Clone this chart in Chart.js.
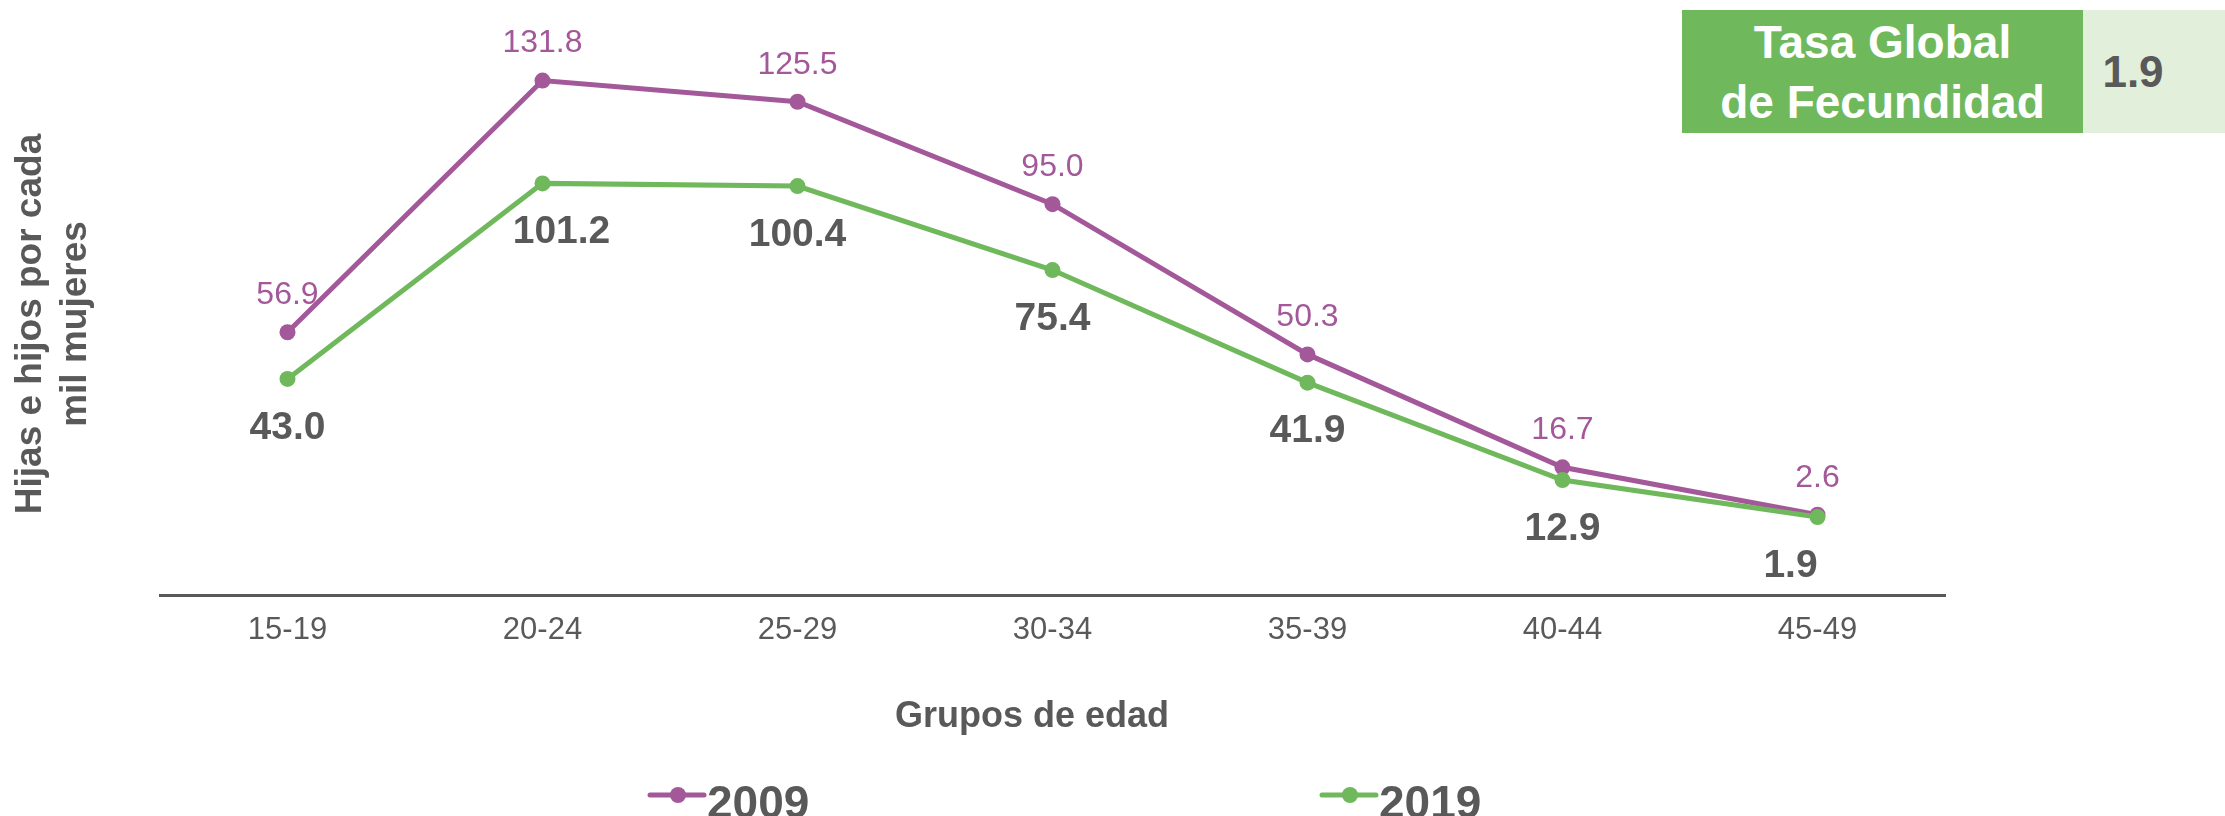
<!DOCTYPE html>
<html>
<head>
<meta charset="utf-8">
<script src="https://cdn.jsdelivr.net/npm/chart.js@4/dist/chart.umd.min.js"></script>
<style>
html,body{margin:0;padding:0;background:#ffffff;}
#wrap{position:relative;width:2225px;height:816px;overflow:hidden;background:#fff;}
#chart{position:absolute;left:0;top:0;}
.tgf{position:absolute;left:1682px;top:10px;width:401px;height:123px;background:#70B85C;color:#ffffff;
  font-family:"Liberation Sans",Arial,sans-serif;font-weight:bold;font-size:46px;line-height:60px;
  display:flex;align-items:center;justify-content:center;text-align:center;}
.valbox{position:absolute;left:2083px;top:10px;width:142px;height:123px;background:#E2EFDA;}
.valtxt{position:absolute;left:2083px;top:10px;width:100px;height:123px;color:#595959;
  font-family:"Liberation Sans",Arial,sans-serif;font-weight:bold;font-size:44px;
  display:flex;align-items:center;justify-content:center;}
</style>
</head>
<body>
<div id="wrap">
  <canvas id="chart" width="2225" height="816"></canvas>
  <div class="tgf">Tasa Global<br>de Fecundidad</div>
  <div class="valbox"></div>
  <div class="valtxt" id="tgfVal"></div>
</div>
<script>
const categories = ['15-19','20-24','25-29','30-34','35-39','40-44','45-49'];
const seriesNames = ['2009','2019'];
const values2009 = [56.9, 131.8, 125.5, 95.0, 50.3, 16.7, 2.6];
const values2019 = [43.0, 101.2, 100.4, 75.4, 41.9, 12.9, 1.9];
const tgfValue = 1.9;
const xTitle = 'Grupos de edad';
const yTitle = ['Hijas e hijos por cada', 'mil mujeres'];

document.getElementById('tgfVal').textContent = tgfValue.toFixed(1);

const PURPLE = '#A3589A';
const GREEN = '#70B85C';
const GRAY = '#595959';
const FONT = '"Liberation Sans", Arial, sans-serif';

const valueLabels = {
  id: 'valueLabels',
  afterDatasetsDraw(chart) {
    const ctx = chart.ctx;
    chart.data.datasets.forEach((ds, i) => {
      const meta = chart.getDatasetMeta(i);
      const st = ds.lbl;
      ctx.save();
      ctx.font = st.font;
      ctx.fillStyle = st.color;
      ctx.textAlign = 'center';
      ctx.textBaseline = 'middle';
      meta.data.forEach((pt, j) => {
        const dx = (st.nudgeX && st.nudgeX[j]) || 0;
        ctx.fillText(ds.data[j].toFixed(1), pt.x + dx, pt.y + st.dy);
      });
      ctx.restore();
    });
  }
};

const xAxisTitle = {
  id: 'xAxisTitle',
  afterDraw(chart) {
    const ctx = chart.ctx;
    ctx.save();
    ctx.fillStyle = GRAY;
    ctx.font = 'bold 36px ' + FONT;
    ctx.textAlign = 'center';
    ctx.textBaseline = 'alphabetic';
    ctx.fillText(xTitle, 1032, 727);
    ctx.restore();
  }
};

const customLegend = {
  id: 'customLegend',
  afterDraw(chart) {
    const ctx = chart.ctx;
    const starts = [648, 1320];
    chart.data.datasets.forEach((ds, i) => {
      const x0 = starts[i];
      const y = 795;
      ctx.save();
      ctx.strokeStyle = ds.borderColor;
      ctx.lineWidth = 5;
      ctx.lineCap = 'round';
      ctx.beginPath();
      ctx.moveTo(x0 + 2, y);
      ctx.lineTo(x0 + 56, y);
      ctx.stroke();
      ctx.fillStyle = ds.borderColor;
      ctx.beginPath();
      ctx.arc(x0 + 30, y, 8, 0, Math.PI * 2);
      ctx.fill();
      ctx.fillStyle = GRAY;
      ctx.font = 'bold 46px ' + FONT;
      ctx.textAlign = 'left';
      ctx.textBaseline = 'alphabetic';
      ctx.fillText(ds.label, x0 + 59, 818);
      ctx.restore();
    });
  }
};

new Chart(document.getElementById('chart'), {
  type: 'line',
  data: {
    labels: categories,
    datasets: [
      {
        label: seriesNames[0],
        data: values2009,
        borderColor: PURPLE,
        backgroundColor: PURPLE,
        pointBackgroundColor: PURPLE,
        borderWidth: 5,
        pointRadius: 8,
        pointBorderWidth: 0,
        tension: 0,
        order: 1,
        lbl: { font: '32px ' + FONT, color: PURPLE, dy: -37 }
      },
      {
        label: seriesNames[1],
        data: values2019,
        borderColor: GREEN,
        backgroundColor: GREEN,
        pointBackgroundColor: GREEN,
        borderWidth: 5,
        pointRadius: 8,
        pointBorderWidth: 0,
        tension: 0,
        order: 0,
        lbl: { font: 'bold 39px ' + FONT, color: GRAY, dy: 49, nudgeX: [0, 19, 0, 0, 0, 0, -27] }
      }
    ]
  },
  options: {
    responsive: false,
    animation: false,
    layout: { padding: { left: 0, right: 280, top: 53, bottom: 0 } },
    plugins: {
      legend: { display: false },
      tooltip: { enabled: false },
      title: { display: false }
    },
    scales: {
      x: {
        offset: true,
        grid: { display: false, drawTicks: false },
        border: { display: true, color: GRAY, width: 3 },
        ticks: { color: GRAY, font: { family: FONT, size: 31 }, padding: 17, maxRotation: 0 },
        title: { display: false },
        afterFit(scale) { scale.height = 221; }
      },
      y: {
        min: -21.3,
        max: 140,
        grid: { display: false, drawTicks: false },
        border: { display: false },
        ticks: { display: false },
        title: { display: true, text: yTitle, color: GRAY,
                 font: { family: FONT, size: 37, weight: 'bold', lineHeight: 1.2 }, padding: { top: 9, bottom: 0 } },
        afterFit(scale) { scale.width = 160; }
      }
    }
  },
  plugins: [valueLabels, xAxisTitle, customLegend]
});
</script>
</body>
</html>
